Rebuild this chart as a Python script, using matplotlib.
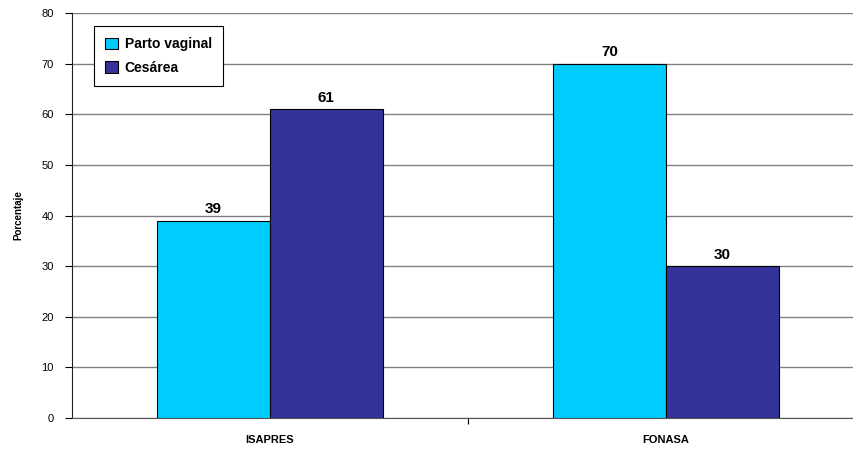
import numpy as np
import matplotlib.pyplot as plt

plt.rcParams['font.family'] = ['Liberation Sans', 'DejaVu Sans']

categories = ['ISAPRES', 'FONASA']
series = ['Parto vaginal', 'Cesárea']
vaginal = [39, 70]
cesarea = [61, 30]
colors = ['#00CCFF', '#333399']

fig = plt.figure(figsize=(8.54, 4.49), dpi=100)
# axes run a little past the right edge, as in the original crop
ax = fig.add_axes([72 / 854, 31 / 449, 792 / 854, 405 / 449])

x = np.arange(len(categories)) + 0.5
w = 0.285
values = [vaginal, cesarea]
for i, (name, vals) in enumerate(zip(series, values)):
    pos = x + (i - 0.5) * w
    ax.bar(pos, vals, width=w, color=colors[i], edgecolor='black',
           linewidth=0.8, label=name, zorder=3)
    for px, v in zip(pos, vals):
        ax.text(px, v + 0.9, str(v), ha='center', va='bottom',
                fontsize=11, fontweight='bold')

ax.set_xlim(0, 2)
ax.set_ylim(0, 80)
ax.set_yticks(range(0, 81, 10))
ax.tick_params(axis='y', labelsize=8, length=5, width=0.8, pad=8)
ax.yaxis.grid(True, color='#808080', linewidth=1, zorder=0)

ax.set_xticks(x)
ax.set_xticklabels(categories, fontsize=8, fontweight='bold')
ax.tick_params(axis='x', length=0, pad=12)
ax.set_xticks([1], minor=True)
ax.tick_params(axis='x', which='minor', length=4, width=0.8)

ax.spines['top'].set_visible(False)
ax.spines['right'].set_visible(False)
ax.spines['left'].set_color('#222222')
ax.spines['bottom'].set_color('#555555')

ax.set_ylabel('Porcentaje', fontsize=7, fontweight='bold', labelpad=13)

leg = ax.legend(loc='upper left', bbox_to_anchor=(0.028, 0.968),
                borderaxespad=0, fancybox=False, framealpha=1,
                edgecolor='black', prop={'size': 10, 'weight': 'bold'},
                handlelength=0.9, handleheight=0.9, handletextpad=0.5,
                borderpad=0.8, labelspacing=0.7)
leg.get_frame().set_linewidth(0.8)
leg.set_zorder(5)

fig.savefig('out.png', dpi=100)
